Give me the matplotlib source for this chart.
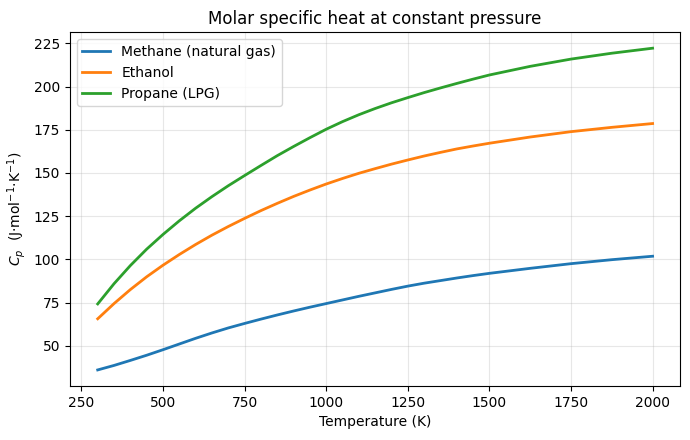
import matplotlib
matplotlib.use("Agg")
import matplotlib.pyplot as plt

temps = [300, 350, 400, 450, 500, 550, 600, 650, 700, 750, 800, 850, 900, 950,
         1000, 1050, 1100, 1150, 1200, 1250, 1300, 1350, 1400, 1450, 1500,
         1625, 1750, 1875, 2000]
methane = [36.0, 38.6, 41.5, 44.5, 47.7, 51.0, 54.3, 57.4, 60.3, 62.9, 65.4, 67.8, 70.1, 72.3,
           74.4, 76.5, 78.6, 80.6, 82.6, 84.5, 86.2, 87.7, 89.2, 90.6, 91.9,
           94.8, 97.5, 99.8, 101.8]
ethanol = [65.6, 74.4, 82.5, 89.9, 96.6, 102.8, 108.6, 114.0, 119.0, 123.7, 128.2, 132.4, 136.4, 140.1,
           143.6, 146.8, 149.8, 152.5, 155.1, 157.5, 159.8, 161.9, 163.9, 165.6, 167.2,
           170.8, 173.9, 176.4, 178.6]
propane = [74.2, 85.9, 96.4, 105.9, 114.4, 122.3, 129.6, 136.3, 142.6, 148.5, 154.3, 160.0, 165.3, 170.4,
           175.3, 179.7, 183.7, 187.3, 190.6, 193.6, 196.5, 199.2, 201.8, 204.3, 206.7,
           211.7, 215.9, 219.3, 222.2]
labels = ["Methane (natural gas)", "Ethanol", "Propane (LPG)"]

fig, ax = plt.subplots(figsize=(6.9, 4.4), dpi=100)
fig.subplots_adjust(left=0.1014, right=0.986, top=0.927, bottom=0.1227)
for vals, lab in zip([methane, ethanol, propane], labels):
    ax.plot(temps, vals, lw=2, label=lab)
ax.set_title("Molar specific heat at constant pressure")
ax.set_xlabel("Temperature (K)")
ax.set_ylabel(r"$C_p$  (J·mol$^{-1}$·K$^{-1}$)")
ax.grid(True, alpha=0.3)
ax.legend(loc="upper left")
fig.savefig("out.png")
